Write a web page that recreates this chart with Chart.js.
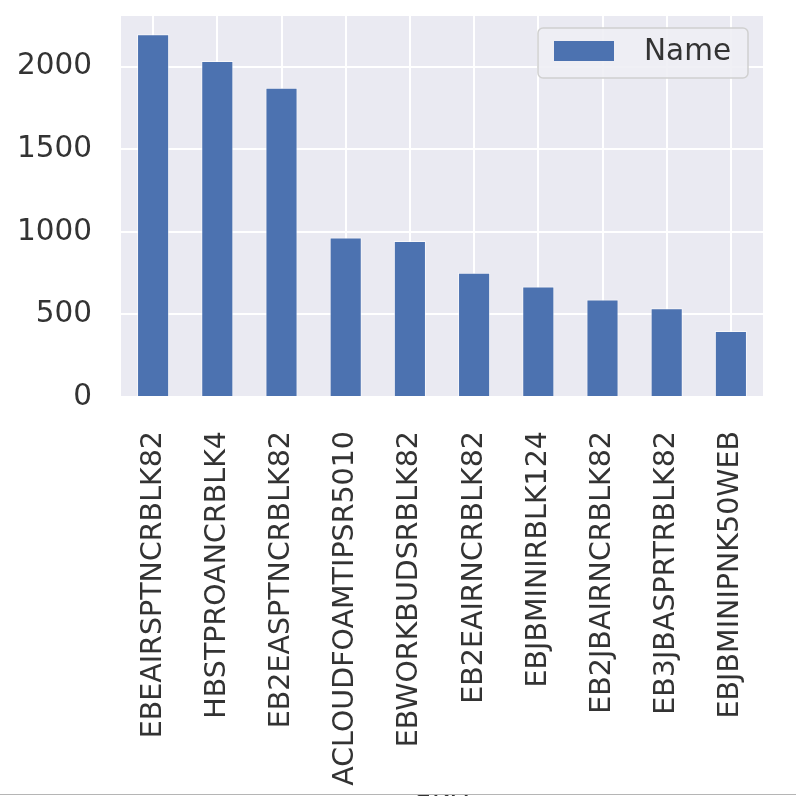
<!DOCTYPE html>
<html>
<head>
<meta charset="utf-8">
<script src="https://cdn.jsdelivr.net/npm/chart.js@4/dist/chart.umd.min.js"></script>
<style>
  html, body { margin: 0; padding: 0; background: #ffffff; }
  #wrap { width: 796px; height: 796px; position: relative; }
</style>
</head>
<body>
<div id="wrap"><canvas id="chart" width="796" height="796"></canvas></div>
<script>
"use strict";

// data
var skus = [
  "EBEAIRSPTNCRBLK82", "HBSTPROANCRBLK4", "EB2EASPTNCRBLK82",
  "ACLOUDFOAMTIPSR5010", "EBWORKBUDSRBLK82", "EB2EAIRNCRBLK82",
  "EBJBMINIRBLK124", "EB2JBAIRNCRBLK82", "EB3JBASPRTRBLK82",
  "EBJBMINIPNK50WEB"
];
var nameCounts = [2197, 2034, 1873, 966, 944, 753, 669, 590, 537, 400];
var yTicks = [0, 500, 1000, 1500, 2000];
var xTitle = "SKU";

var FONT = "'DejaVu Sans', sans-serif";
var TEXT = "#333333";
var BAR = "#4C72B0";

// grey panel behind the bars, plus the clipped axis title and bottom rule
var panelPlugin = {
  id: "panel",
  beforeDraw: function(chart) {
    var ctx = chart.ctx;
    var a = chart.chartArea;
    ctx.save();
    ctx.fillStyle = "#EAEAF2";
    ctx.fillRect(a.left, a.top, a.right - a.left, a.bottom - a.top);
    ctx.restore();
  },
  afterDraw: function(chart) {
    var ctx = chart.ctx;
    var a = chart.chartArea;
    ctx.save();
    ctx.fillStyle = TEXT;
    ctx.font = "28px " + FONT;
    ctx.textAlign = "center";
    ctx.textBaseline = "top";
    ctx.fillText(xTitle, (a.left + a.right) / 2, 794);
    ctx.strokeStyle = "#b5b5b5";
    ctx.lineWidth = 1;
    ctx.beginPath();
    ctx.moveTo(0, 794.5);
    ctx.lineTo(796, 794.5);
    ctx.stroke();
    ctx.restore();
  }
};

// matplotlib style legend box in the upper right corner
var legendPlugin = {
  id: "boxLegend",
  afterDatasetsDraw: function(chart) {
    var ctx = chart.ctx;
    var a = chart.chartArea;
    var ds = chart.data.datasets[0];
    var w = 210, h = 50;
    var x = a.right - 15 - w;
    var y = a.top + 12;
    ctx.save();
    ctx.beginPath();
    ctx.roundRect(x, y, w, h, 5);
    ctx.fillStyle = "rgba(238,238,244,0.9)";
    ctx.fill();
    ctx.strokeStyle = "#d0d0d0";
    ctx.lineWidth = 1.5;
    ctx.stroke();
    ctx.fillStyle = ds.backgroundColor;
    ctx.fillRect(x + 16, y + 13, 60, 20);
    ctx.fillStyle = TEXT;
    ctx.font = "29.5px " + FONT;
    ctx.textAlign = "left";
    ctx.textBaseline = "middle";
    ctx.fillText(ds.label, x + 106, y + 24);
    ctx.restore();
  }
};

var ctx = document.getElementById("chart");
var chart = new Chart(ctx, {
  type: "bar",
  data: {
    labels: skus,
    datasets: [{
      label: "Name",
      data: nameCounts,
      backgroundColor: BAR,
      borderColor: "rgba(255,255,255,0.6)",
      borderWidth: 1,
      barPercentage: 0.5,
      categoryPercentage: 1.0
    }]
  },
  options: {
    responsive: false,
    animation: false,
    layout: { padding: { top: 16, right: 33, left: 0, bottom: 0 } },
    plugins: {
      legend: { display: false },
      tooltip: { enabled: false }
    },
    scales: {
      x: {
        offset: true,
        grid: { color: "#ffffff", lineWidth: 2, offset: false, drawTicks: false },
        border: { display: false },
        ticks: {
          color: TEXT,
          font: { family: FONT, size: 28.5 },
          minRotation: 90,
          maxRotation: 90,
          autoSkip: false,
          padding: 34
        },
        afterFit: function(scale) {
          scale.height = 399;
          scale.paddingLeft = 0;
          scale.paddingRight = 0;
        }
      },
      y: {
        min: 0,
        max: 2307,
        grid: { color: "#ffffff", lineWidth: 2, drawTicks: false },
        border: { display: false },
        afterBuildTicks: function(scale) {
          scale.ticks = yTicks.map(function(v) { return { value: v }; });
        },
        ticks: {
          color: TEXT,
          font: { family: FONT, size: 29.5 },
          padding: 29,
          callback: function(v) { return String(v); }
        },
        afterFit: function(scale) {
          scale.width = 121;
          scale.paddingTop = 0;
          scale.paddingBottom = 0;
        }
      }
    }
  },
  plugins: [panelPlugin, legendPlugin]
});
</script>
</body>
</html>
